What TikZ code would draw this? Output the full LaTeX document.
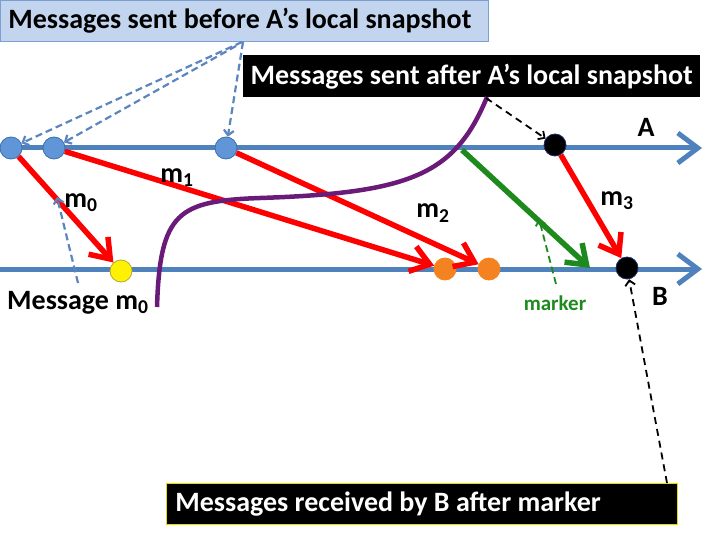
\documentclass[tikz,border=0pt]{standalone}
\usepackage{fontspec}
\setmainfont{Carlito}
\usetikzlibrary{arrows.meta}
\definecolor{tlblue}{HTML}{4F81BD}
\definecolor{evblue}{HTML}{6096D8}
\definecolor{evborder}{HTML}{3A6FB0}
\definecolor{boxfill}{HTML}{C3D5EE}
\definecolor{boxborder}{HTML}{7BA0D0}
\definecolor{msgred}{HTML}{FF0000}
\definecolor{mkgreen}{HTML}{1E8A1E}
\definecolor{cutpurple}{HTML}{6A1A78}
\definecolor{evorange}{HTML}{F58220}
\definecolor{dashblue}{HTML}{5A85BE}
\definecolor{navy}{HTML}{1F2A6B}
\begin{document}
\begin{tikzpicture}[x=1pt,y=-1pt,
  big/.style={font=\fontsize{28}{32}\selectfont\bfseries},
  timeline/.style={line width=5pt, draw=tlblue, -{Straight Barb[length=20pt,width=30pt]}},
  msg/.style={line width=5.5pt, draw=msgred, -{Straight Barb[length=18pt,width=26pt]}},
  mkarrow/.style={line width=5.5pt, draw=mkgreen, -{Straight Barb[length=18pt,width=26pt]}},
  ev/.style={circle, minimum size=22pt, inner sep=0pt, line width=0.8pt},
  bdash/.style={line width=2.2pt, draw=dashblue, dash pattern=on 7pt off 4pt, -{Straight Barb[length=5pt,width=10pt]}},
  kdash/.style={line width=1.8pt, draw=black, dash pattern=on 7pt off 5pt, -{Straight Barb[length=5pt,width=10pt]}},
  gdash/.style={line width=1.8pt, draw=mkgreen, dash pattern=on 7pt off 4pt, -{Straight Barb[length=5pt,width=10pt]}},
  lbl/.style={big, text=black, inner sep=0pt}
]
\useasboundingbox (0,0) rectangle (720,540);

% timelines
\coordinate (As) at (0,148);
\coordinate (Ae) at (702,148);
\coordinate (Bs) at (0,269);
\coordinate (Be) at (702,269);
\draw[timeline] (As) -- (Ae);
\draw[timeline] (Bs) -- (Be);

% events
\node[ev, fill=evblue, draw=evborder] (a1) at (11,148) {};
\node[ev, fill=evblue, draw=evborder] (a2) at (54,148) {};
\node[ev, fill=evblue, draw=evborder] (a3) at (226,148) {};
\node[ev, fill=black, draw=navy] (a4) at (555,145) {};
\node[ev, fill=yellow, draw=olive!70] (b1) at (121,271) {};
\node[ev, fill=evorange, draw=evorange] (b2) at (445,269) {};
\node[ev, fill=evorange, draw=evorange] (b3) at (489,269) {};
\node[ev, fill=black, draw=navy] (b4) at (627,268) {};

% messages
\draw[msg] (a1) -- (b1);
\draw[msg] (a2) -- (b2);
\draw[msg] (a3) -- (b3);
\draw[msg] (a4) -- (b4);

% marker
\coordinate (gA) at (462,150);
\coordinate (gB) at (590,268);
\draw[mkarrow] (gA) -- (gB);

% labels
\node[lbl] (lm0) at (81,203) {m$_{\mathbf 0}$};
\node[lbl] (lm1) at (177,178) {m$_{\mathbf 1}$};
\node[lbl] (lm2) at (433,213) {m$_{\mathbf 2}$};
\node[lbl] (lm3) at (617,201) {m$_{\mathbf 3}$};
\node[lbl] (lA) at (646,127) {A};
\node[lbl] (lB) at (660,296) {B};
\node[lbl, anchor=west] (msgm0) at (7,303) {Message m$_{\mathbf 0}$};
\node[font=\fontsize{21}{24}\selectfont\bfseries, text=mkgreen, inner sep=0pt] (mk) at (555,303) {marker};

% boxes
\node[big, anchor=north west, fill=boxfill, draw=boxborder, line width=0.8pt,
      inner xsep=8pt, inner ysep=0pt, minimum height=41pt]
      (before) at (0,0) {\makebox[472pt][l]{Messages sent before A’s local snapshot}};
\node[big, anchor=north west, fill=black, text=white,
      inner xsep=0pt, inner ysep=0pt, minimum width=457pt, minimum height=42pt]
      (after) at (243,55) {Messages sent after A’s local snapshot};
\node[big, anchor=north west, fill=black, text=white, draw=yellow!80!olive, line width=0.8pt,
      inner xsep=9pt, inner ysep=0pt, minimum height=41pt]
      (recv) at (166,483) {\makebox[493pt][l]{Messages received by B after marker}};

% cut line
\coordinate (cutS) at (157,307);
\coordinate (cutM) at (260,198);
\coordinate (cutE) at (487,97);
\draw[line width=4.5pt, cutpurple] (cutS) .. controls (160,212) and (178,201) .. (cutM)
   .. controls (410,193) and (455,175) .. (cutE);

% dashed pointers
\coordinate (bp1) at (242,42);
\coordinate (bp2) at (236,46);
\coordinate (bp3) at (243,42);
\draw[bdash] (bp1) -- (a1);
\draw[bdash] (bp2) -- (a2);
\draw[bdash] (bp3) -- (a3);
\coordinate (m0s) at (78,283);
\coordinate (m0e) at (57,197);
\draw[bdash] (m0s) -- (m0e);
\coordinate (ks) at (486,98);
\draw[kdash] (ks) -- (a4);
\coordinate (gs) at (556,284);
\coordinate (ge) at (539,219);
\draw[gdash] (gs) -- (ge);
\coordinate (rs) at (667,483);
\draw[kdash] (rs) -- (b4);
\end{tikzpicture}
\end{document}
